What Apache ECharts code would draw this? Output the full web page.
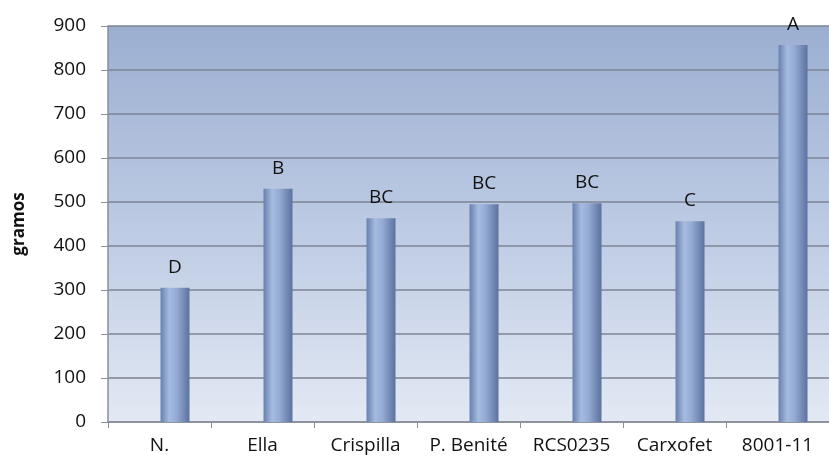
<!DOCTYPE html>
<html>
<head>
<meta charset="utf-8">
<script src="https://cdn.jsdelivr.net/npm/echarts@6/dist/echarts.min.js"></script>
<style>
  html, body { margin: 0; padding: 0; background: #fff; }
  #main { width: 829px; height: 461px; }
</style>
</head>
<body>
<div id="main"></div>
<script>
var categories = ['N.', 'Ella', 'Crispilla', 'P. Benité', 'RCS0235', 'Carxofet', '8001-11'];
var values = [305, 530, 463, 495, 497, 456, 857];
var letters = ['D', 'B', 'BC', 'BC', 'BC', 'C', 'A'];
var yTicks = { min: 0, max: 900, interval: 100 };

var font = '"Open Sans", Lato, sans-serif';

var chart = echarts.init(document.getElementById('main'));

var barFill = new echarts.graphic.LinearGradient(0, 0, 1, 0, [
    { offset: 0, color: '#6880ad' },
    { offset: 0.3, color: '#a6bbe0' },
    { offset: 0.55, color: '#95abd4' },
    { offset: 1, color: '#5b729f' }
]);

chart.setOption({
    animation: false,
    grid: {
        left: 108,
        top: 26,
        bottom: 39,
        width: 731,
        show: true,
        borderWidth: 0,
        backgroundColor: new echarts.graphic.LinearGradient(0, 0, 0, 1, [
            { offset: 0, color: '#9cafd1' },
            { offset: 0.5, color: '#bccae3' },
            { offset: 1, color: '#e3e9f4' }
        ])
    },
    xAxis: {
        type: 'category',
        data: categories,
        axisLine: { lineStyle: { color: '#8a8f99', width: 1.5 } },
        axisTick: { show: true, length: 6, lineStyle: { color: '#8a8f99' } },
        axisLabel: { color: '#111', fontSize: 19, fontFamily: font, margin: 14 }
    },
    yAxis: {
        type: 'value',
        min: yTicks.min,
        max: yTicks.max,
        interval: yTicks.interval,
        name: 'gramos',
        nameLocation: 'middle',
        nameRotate: 90,
        nameGap: 80,
        nameTextStyle: { color: '#111', fontSize: 17, fontWeight: 'bold', fontFamily: font },
        axisLine: { show: true, lineStyle: { color: '#8a8f99', width: 1.5 } },
        axisTick: { show: true, length: 7, lineStyle: { color: '#8a8f99' } },
        axisLabel: { color: '#111', fontSize: 19, fontFamily: font, margin: 22 },
        splitLine: { lineStyle: { color: '#7d8494', width: 1.5 } }
    },
    series: [
        {
            // empty slot so the bars sit right of the category centre, as in the 3D original
            type: 'bar',
            data: categories.map(function () { return '-'; }),
            barWidth: 29,
            barGap: '7%',
            silent: true
        },
        {
            type: 'bar',
            data: values,
            barWidth: 29,
            itemStyle: { color: barFill },
            label: {
                show: true,
                position: 'top',
                distance: 11,
                color: '#111',
                fontSize: 19,
                fontFamily: font,
                formatter: function (p) { return letters[p.dataIndex]; }
            }
        }
    ]
});
</script>
</body>
</html>
